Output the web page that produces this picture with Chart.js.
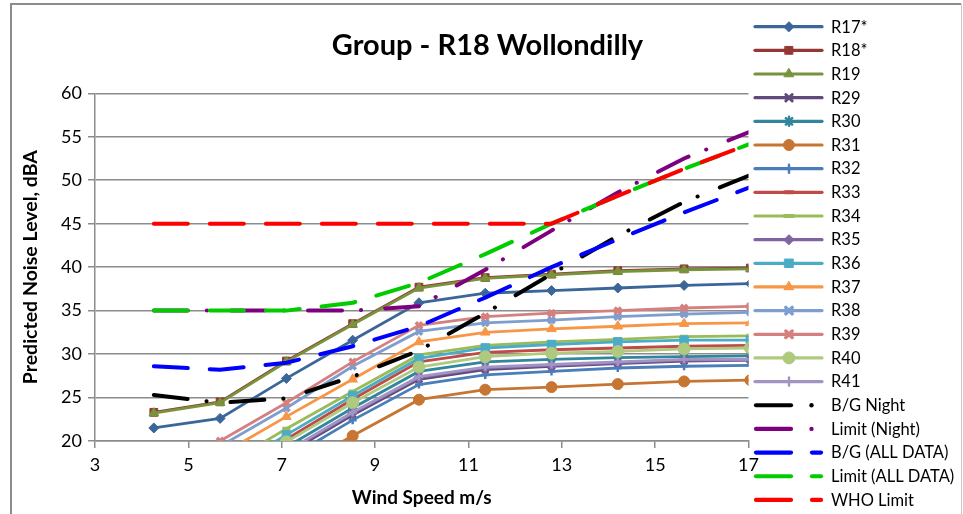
<!DOCTYPE html>
<html>
<head>
<meta charset="utf-8">
<script src="https://cdn.jsdelivr.net/npm/chart.js@4.4.1/dist/chart.umd.min.js"></script>
<style>
html,body{margin:0;padding:0;background:#fff;}
#wrap{width:963px;height:514px;position:relative;}
</style>
</head>
<body>
<div id="wrap"><canvas id="c" width="963" height="514"></canvas></div>
<script>
// ---- Data ----
const windSpeed = [4.26, 5.68, 7.1, 8.52, 9.94, 11.36, 12.78, 14.2, 15.62, 17.04];

const R17 = [21.5, 22.6, 27.2, 31.6, 35.9, 37.0, 37.3, 37.6, 37.9, 38.1];
const R18 = [23.3, 24.5, 29.2, 33.5, 37.7, 38.8, 39.2, 39.6, 39.8, 39.9];
const R19 = [23.2, 24.4, 29.1, 33.4, 37.6, 38.7, 39.1, 39.5, 39.7, 39.8];
const R29 = [9.3, 13.9, 18.5, 23.0, 27.1, 28.2, 28.6, 28.9, 29.2, 29.3];
const R30 = [10.1, 14.7, 19.3, 23.8, 28.0, 29.1, 29.4, 29.6, 29.7, 29.8];
const R31 = [6.8, 11.6, 16.3, 20.6, 24.75, 25.9, 26.2, 26.55, 26.85, 27.0];
const R32 = [8.6, 13.2, 17.9, 22.4, 26.5, 27.6, 28.0, 28.4, 28.6, 28.7];
const R33 = [11.2, 15.7, 20.2, 24.8, 29.1, 30.2, 30.5, 30.7, 30.9, 31.0];
const R34 = [12.4, 16.9, 21.4, 25.7, 29.9, 31.0, 31.4, 31.7, 32.0, 32.1];
const R35 = [9.5, 14.1, 18.7, 23.2, 27.3, 28.4, 28.7, 29.0, 29.3, 29.3];
const R36 = [11.7, 16.2, 20.7, 25.2, 29.5, 30.7, 31.1, 31.4, 31.6, 31.6];
const R37 = [13.9, 18.4, 22.8, 27.1, 31.4, 32.5, 32.9, 33.2, 33.5, 33.6];
const R38 = [14.9, 19.4, 23.8, 28.6, 32.6, 33.6, 33.9, 34.3, 34.6, 34.8];
const R39 = [15.5, 20.0, 24.4, 29.1, 33.3, 34.3, 34.7, 35.0, 35.3, 35.5];
const R40 = [10.8, 15.4, 19.9, 24.4, 28.5, 29.7, 30.1, 30.3, 30.6, 30.7];
const R41 = [9.6, 14.2, 18.8, 23.3, 27.4, 28.5, 28.8, 29.1, 29.4, 29.4];
const bgNight = [25.3, 24.4, 24.9, 27.4, 30.4, 34.7, 39.2, 43.6, 47.5, 50.6];
const limitNight = [35, 35, 35, 35, 35.5, 39.7, 44.2, 48.6, 52.5, 55.6];
const bgAll = [28.6, 28.2, 29.0, 30.9, 33.2, 36.5, 40.0, 43.2, 46.3, 49.2];
const limitAll = [35, 35, 35, 35.9, 38.2, 41.5, 45.0, 48.2, 51.3, 54.2];
const whoLimit = [45, 45, 45, 45, 45, 45, 45.0, 48.2, 51.3, 54.2];

const xTicks = [3, 5, 7, 9, 11, 13, 15, 17];
const yTicks = [20, 25, 30, 35, 40, 45, 50, 55, 60];

// ---- Series definitions (style only) ----
const markerSeries = [
  ['R17*', R17, '#3B6699', 'rectRot', 5, 1],
  ['R18*', R18, '#953735', 'rect', 5.5, 1],
  ['R19', R19, '#77933C', 'triangle', 5.5, 1],
  ['R29', R29, '#604A7B', 'crossRot', 4.5, 3],
  ['R30', R30, '#31859C', 'star', 4.5, 2.5],
  ['R31', R31, '#C77532', 'circle', 5.5, 1],
  ['R32', R32, '#4A7EBB', 'cross', 4, 2.5],
  ['R33', R33, '#BE4B48', 'line', 4, 4],
  ['R34', R34, '#9BBB59', 'line', 4, 4],
  ['R35', R35, '#8064A2', 'rectRot', 5, 1],
  ['R36', R36, '#4BACC6', 'rect', 6, 1],
  ['R37', R37, '#F79646', 'triangle', 5.5, 1],
  ['R38', R38, '#7E9ED0', 'crossRot', 4.5, 3.5],
  ['R39', R39, '#D4807F', 'crossRot', 4.5, 3.5],
  ['R40', R40, '#AFC97E', 'circle', 6, 1],
  ['R41', R41, '#A294C4', 'cross', 4, 2.5]
];
const dashSeries = [
  ['B/G Night', bgNight, '#000000', 'dashdot'],
  ['Limit (Night)', limitNight, '#7F007F', 'dashdot'],
  ['B/G (ALL DATA)', bgAll, '#0000FF', 'dash'],
  ['Limit (ALL DATA)', limitAll, '#00CC00', 'dash'],
  ['WHO Limit', whoLimit, '#FF0000', 'dash']
];

const toPts = vals => vals.map((v, i) => ({x: windSpeed[i], y: v}));
const datasets = [];
markerSeries.forEach(s => {
  datasets.push({
    label: s[0], data: toPts(s[1]),
    borderColor: s[2], backgroundColor: s[2],
    borderWidth: 2.8, pointStyle: s[3], pointRadius: s[4],
    pointBorderWidth: s[5], pointBorderColor: s[2], pointBackgroundColor: s[2],
    tension: 0, kind: 'marker'
  });
});
dashSeries.forEach(s => {
  datasets.push({
    label: s[0], data: toPts(s[1]),
    borderColor: s[2], backgroundColor: s[2],
    borderWidth: 4, pointRadius: 0, tension: 0,
    borderCapStyle: 'round',
    borderDash: s[3] === 'dash' ? [34, 22] : [34, 19, 0.1, 24],
    kind: s[3]
  });
});
const N = datasets.length;
datasets.forEach((d, i) => { d.order = N - i; });

const frameLegend = {
  id: 'frameLegend',
  afterDraw(chart) {
    const ctx = chart.ctx;
    ctx.save();
    // outer frame
    ctx.strokeStyle = '#8c8c8c';
    ctx.lineWidth = 2;
    ctx.beginPath();
    ctx.moveTo(11, 520); ctx.lineTo(11, 4); ctx.lineTo(961, 4);
    ctx.stroke();
    ctx.strokeStyle = '#c8c8c8';
    ctx.lineWidth = 1;
    ctx.beginPath();
    ctx.moveTo(961.5, 4); ctx.lineTo(961.5, 520);
    ctx.stroke();
    // legend
    ctx.font = '16.5px Lato';
    ctx.textBaseline = 'middle';
    ctx.textAlign = 'left';
    chart.data.datasets.forEach((ds, i) => {
      const y = 26.7 + i * 23.66;
      ctx.lineCap = 'round';
      ctx.setLineDash([]);
      if (ds.kind === 'marker') {
        ctx.strokeStyle = ds.borderColor;
        ctx.lineWidth = 3.2;
        ctx.beginPath(); ctx.moveTo(755, y); ctx.lineTo(822, y); ctx.stroke();
        ctx.fillStyle = ds.borderColor;
        ctx.strokeStyle = ds.borderColor;
        ctx.lineWidth = ds.pointBorderWidth;
        ctx.beginPath();
        Chart.helpers.drawPoint(ctx, {
          pointStyle: ds.pointStyle, radius: ds.pointRadius, rotation: 0,
          borderWidth: ds.pointBorderWidth
        }, 789, y);
      } else {
        ctx.strokeStyle = ds.borderColor;
        ctx.lineWidth = 4.2;
        ctx.beginPath(); ctx.moveTo(756, y); ctx.lineTo(791, y); ctx.stroke();
        if (ds.kind === 'dash') {
          ctx.beginPath(); ctx.moveTo(812, y); ctx.lineTo(821, y); ctx.stroke();
        } else {
          ctx.fillStyle = ds.borderColor;
          ctx.beginPath(); ctx.arc(811.5, y, 2.2, 0, Math.PI * 2); ctx.fill();
        }
      }
      ctx.fillStyle = '#000';
      ctx.fillText(ds.label, 831, y + 0.5);
    });
    ctx.restore();
  }
};

Chart.defaults.font.family = 'Lato';
Chart.defaults.color = '#000';

new Chart(document.getElementById('c'), {
  type: 'line',
  data: {datasets},
  plugins: [frameLegend],
  options: {
    responsive: false,
    animation: false,
    devicePixelRatio: 1,
    layout: {padding: {left: 12, top: 0, right: 0, bottom: 5}},
    plugins: {
      legend: {display: false},
      tooltip: {enabled: false},
      title: {
        display: true, text: 'Group - R18 Wollondilly', color: '#000',
        font: {family: 'Lato', size: 29, weight: 'bold', lineHeight: 1.2},
        padding: {top: 28, bottom: 30.5}
      }
    },
    scales: {
      x: {
        type: 'linear', min: 3, max: 17,
        afterBuildTicks: s => { s.ticks = xTicks.map(v => ({value: v})); },
        ticks: {font: {size: 18}, color: '#000', padding: 6, maxRotation: 0},
        grid: {drawOnChartArea: false, drawTicks: true, tickLength: 7, color: '#8c8c8c', lineWidth: 1.5},
        border: {display: true, color: '#8c8c8c', width: 1.5},
        title: {display: true, text: 'Wind Speed m/s', color: '#000',
                font: {size: 19, weight: 'bold', lineHeight: 1.2}, padding: {top: 2, bottom: 0}},
        afterFit: s => { s.height = 514 - 5 - 441; }
      },
      y: {
        type: 'linear', min: 20, max: 60,
        afterBuildTicks: s => { s.ticks = yTicks.map(v => ({value: v})); },
        ticks: {font: {size: 18}, color: '#000', padding: 6},
        grid: {drawTicks: true, tickLength: 7, color: '#8c8c8c', lineWidth: 1.5},
        border: {display: true, color: '#8c8c8c', width: 1.5},
        title: {display: true, text: 'Predicted Noise Level, dBA', color: '#000',
                font: {size: 19.5, weight: 'bold', lineHeight: 1.2}, padding: {top: 7, bottom: 0}},
        afterFit: s => { s.width = 95 - 12; }
      },
      yR: {
        type: 'linear', position: 'right', display: true,
        ticks: {display: false}, grid: {display: false}, border: {display: false},
        afterFit: s => { s.width = 963 - 748.5; }
      }
    }
  }
});
</script>
</body>
</html>
